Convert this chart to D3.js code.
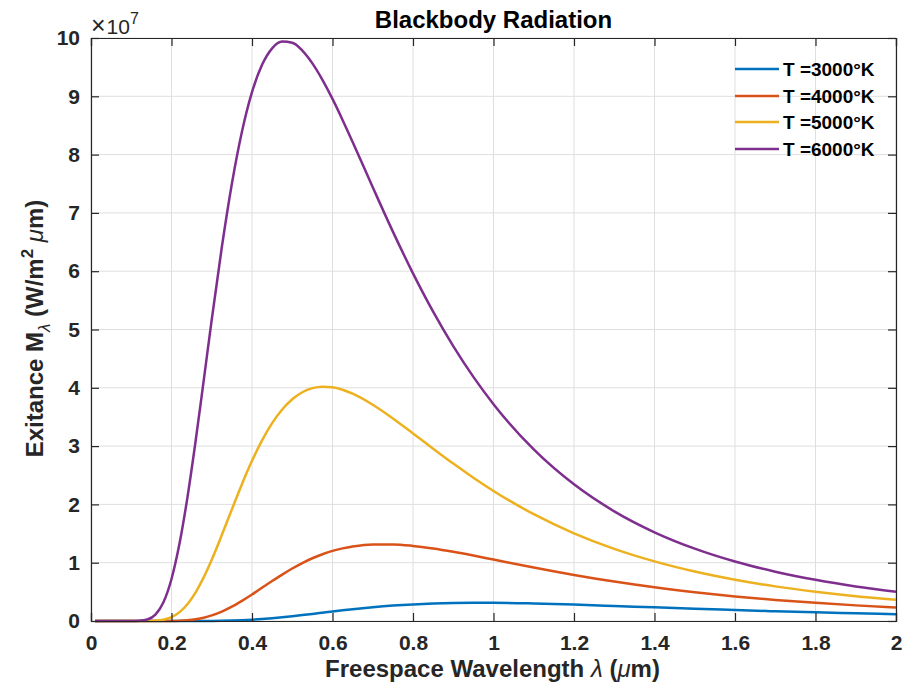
<!DOCTYPE html>
<html>
<head>
<meta charset="utf-8">
<script src="https://cdn.jsdelivr.net/npm/d3@7"></script>
<style>
  html, body { margin: 0; padding: 0; background: #fff; }
  svg { display: block; font-family: "Liberation Sans", Arial, Helvetica, sans-serif; }
</style>
</head>
<body>
<svg id="chart" width="915" height="692"></svg>
<script>
// Wavelength samples (µm)
const wavelengths = [0.01, 0.05, 0.10, 0.12, 0.14, 0.16, 0.18, 0.20, 0.22, 0.24, 0.26, 0.28, 0.30,
  0.325, 0.35, 0.375, 0.40, 0.425, 0.45, 0.475, 0.50, 0.525, 0.55, 0.575, 0.60, 0.625, 0.65,
  0.70, 0.75, 0.80, 0.85, 0.90, 0.95, 1.00,
  1.10, 1.20, 1.30, 1.40, 1.50, 1.60, 1.70, 1.80, 1.90, 2.00];

// Exitance values in units of 1e7 W/(m^2 µm)
const t3000 = [0, 0, 0, 0, 0, 0, 0, 0, 0, 0.0001, 0.0003, 0.0008, 0.0018,
  0.004, 0.008, 0.014, 0.023, 0.034, 0.048, 0.064, 0.082, 0.101, 0.121, 0.142, 0.163, 0.183, 0.202,
  0.236, 0.264, 0.285, 0.300, 0.309, 0.312, 0.312,
  0.301, 0.282, 0.258, 0.234, 0.210, 0.188, 0.167, 0.148, 0.132, 0.117];
const t4000 = [0, 0, 0, 0, 0, 0.0001, 0.0004, 0.0018, 0.0058, 0.0146, 0.031, 0.057, 0.096,
  0.161, 0.245, 0.345, 0.454, 0.570, 0.685, 0.796, 0.900, 0.994, 1.076, 1.145, 1.202, 1.246, 1.279,
  1.314, 1.314, 1.288, 1.243, 1.186, 1.122, 1.054,
  0.918, 0.790, 0.676, 0.577, 0.493, 0.421, 0.361, 0.311, 0.268, 0.232];
const t5000 = [0, 0, 0, 0, 0.0008, 0.0055, 0.0226, 0.066, 0.152, 0.292, 0.491, 0.748, 1.051,
  1.474, 1.915, 2.347, 2.747, 3.098, 3.393, 3.628, 3.803, 3.924, 3.994, 4.020, 4.009, 3.967, 3.900,
  3.710, 3.475, 3.218, 2.956, 2.700, 2.458, 2.231,
  1.832, 1.504, 1.237, 1.022, 0.848, 0.708, 0.594, 0.502, 0.426, 0.364];
const t6000 = [0, 0, 0.0001, 0.003, 0.025, 0.110, 0.322, 0.721, 1.332, 2.138, 3.091, 4.124, 5.171,
  6.410, 7.500, 8.392, 9.071, 9.540, 9.823, 9.938, 9.917, 9.784, 9.565, 9.283, 8.955, 8.595, 8.216,
  7.440, 6.679, 5.963, 5.306, 4.715, 4.187, 3.719,
  2.943, 2.344, 1.881, 1.522, 1.241, 1.020, 0.846, 0.706, 0.593, 0.502];

const seriesNames = ["T =3000°K", "T =4000°K", "T =5000°K", "T =6000°K"];
const seriesValues = [t3000, t4000, t5000, t6000];
const seriesColors = ["#0072BD", "#D95319", "#EDB120", "#7E2F8E"];

const xTicks = [0, 0.2, 0.4, 0.6, 0.8, 1, 1.2, 1.4, 1.6, 1.8, 2];
const yTicks = [0, 1, 2, 3, 4, 5, 6, 7, 8, 9, 10];

const svg = d3.select("#chart");
const L = 91, R = 896, T = 38, B = 621;
const x = d3.scaleLinear().domain([0, 2]).range([L, R]);
const y = d3.scaleLinear().domain([0, 10]).range([B, T]);
const axisColor = "#262626";

// grid
const grid = svg.append("g");
grid.selectAll("line.gx").data(xTicks).join("line")
  .attr("x1", d => x(d)).attr("x2", d => x(d)).attr("y1", T).attr("y2", B)
  .attr("stroke", "#dfdfdf").attr("stroke-width", 1);
grid.selectAll("line.gy").data(yTicks).join("line")
  .attr("x1", L).attr("x2", R).attr("y1", d => y(d)).attr("y2", d => y(d))
  .attr("stroke", "#dfdfdf").attr("stroke-width", 1);

// series
const line = d3.line().x((d, i) => x(wavelengths[i])).y(d => y(d)).curve(d3.curveMonotoneX);
seriesValues.forEach((vals, k) => {
  svg.append("path").datum(vals).attr("d", line)
    .attr("fill", "none").attr("stroke", seriesColors[k]).attr("stroke-width", 2.5)
    .attr("stroke-linejoin", "round");
});

// axes (MATLAB style: ticks inward, box)
const tickLen = 8;
const xAxisB = d3.axisBottom(x).tickValues(xTicks).tickSize(-tickLen).tickPadding(14).tickFormat(d3.format("~g"));
const xAxisT = d3.axisTop(x).tickValues(xTicks).tickSize(-tickLen).tickFormat("");
const yAxisL = d3.axisLeft(y).tickValues(yTicks).tickSize(-tickLen).tickPadding(11).tickFormat(d3.format("~g"));
const yAxisR = d3.axisRight(y).tickValues(yTicks).tickSize(-tickLen).tickFormat("");

function styleAxis(g) {
  g.select(".domain").attr("stroke", axisColor).attr("stroke-width", 1.2);
  g.selectAll(".tick line").attr("stroke", axisColor).attr("stroke-width", 1.2);
  g.selectAll(".tick text").attr("fill", axisColor).attr("font-size", 21).attr("font-weight", "bold")
    .attr("font-family", "'Liberation Sans', Arial, sans-serif");
}
svg.append("g").attr("transform", `translate(0,${B})`).call(xAxisB).call(styleAxis);
svg.append("g").attr("transform", `translate(0,${T})`).call(xAxisT).call(styleAxis);
svg.append("g").attr("transform", `translate(${L},0)`).call(yAxisL).call(styleAxis);
svg.append("g").attr("transform", `translate(${R},0)`).call(yAxisR).call(styleAxis);

// exponent label
const ex = svg.append("text").attr("x", L).attr("y", 34).attr("fill", axisColor)
  .attr("font-size", 21);
ex.append("tspan").attr("font-size", 25).text("×");
ex.append("tspan").attr("dx", 1).text("10");
ex.append("tspan").attr("font-size", 16).attr("dy", -10).text("7");

// title
svg.append("text").attr("x", (L + R) / 2).attr("y", 28).attr("text-anchor", "middle")
  .attr("font-size", 24).attr("font-weight", "bold").attr("fill", "#000").text("Blackbody Radiation");

// x label
const xl = svg.append("text").attr("x", (L + R) / 2 - 1).attr("y", 677).attr("text-anchor", "middle")
  .attr("font-size", 24).attr("font-weight", "bold").attr("fill", axisColor);
xl.append("tspan").text("Freespace Wavelength ");
xl.append("tspan").attr("font-weight", "normal").attr("font-style", "italic").text("λ");
xl.append("tspan").text(" (");
xl.append("tspan").attr("font-weight", "normal").attr("font-style", "italic").text("μ");
xl.append("tspan").text("m)");

// y label
const yl = svg.append("text").attr("transform", `translate(43,${(T + B) / 2 - 1}) rotate(-90)`)
  .attr("text-anchor", "middle").attr("font-size", 24).attr("font-weight", "bold").attr("fill", axisColor);
yl.append("tspan").text("Exitance M");
yl.append("tspan").attr("font-size", 17).attr("font-weight", "normal").attr("font-style", "italic").attr("dy", 7).text("λ");
yl.append("tspan").attr("dy", -7).text(" (W/m");
yl.append("tspan").attr("font-size", 17).attr("dy", -10).text("2");
yl.append("tspan").attr("dy", 10).text("  ");
yl.append("tspan").attr("font-weight", "normal").attr("font-style", "italic").text("μ");
yl.append("tspan").text("m)");

// legend
const legY = [69, 96, 122, 149];
const leg = svg.append("g");
seriesNames.forEach((name, k) => {
  leg.append("line").attr("x1", 735).attr("x2", 779).attr("y1", legY[k]).attr("y2", legY[k])
    .attr("stroke", seriesColors[k]).attr("stroke-width", 2.5);
  leg.append("text").attr("x", 783).attr("y", legY[k] + 7).attr("font-size", 19).attr("font-weight", "bold")
    .attr("fill", "#000").text(name);
});
</script>
</body>
</html>
